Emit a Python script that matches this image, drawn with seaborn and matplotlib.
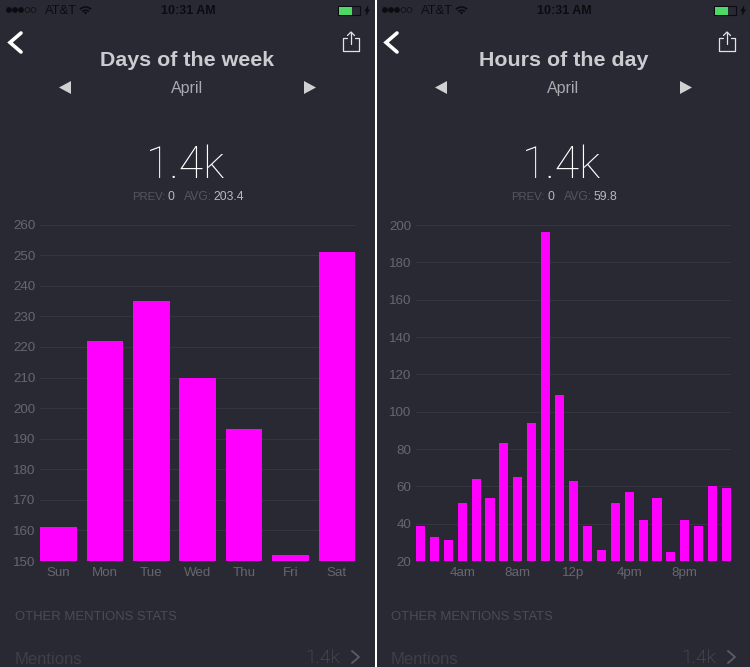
import matplotlib.pyplot as plt
from matplotlib.patches import Rectangle, Polygon, Arc
import seaborn as sns
import pandas as pd

# values
days = ['Sun', 'Mon', 'Tue', 'Wed', 'Thu', 'Fri', 'Sat']
day_counts = [161, 222, 235, 210, 193, 152, 251]
day_yticks = [150, 160, 170, 180, 190, 200, 210, 220, 230, 240, 250, 260]

hours = list(range(1, 24))
hour_counts = [39, 33, 31, 51, 64, 54, 83, 65, 94, 196, 109, 63,
               39, 26, 51, 57, 42, 54, 25, 42, 39, 60, 59]
hour_yticks = [20, 40, 60, 80, 100, 120, 140, 160, 180, 200]
hour_tick_hours = [4, 8, 12, 16, 20]
hour_tick_labels = ['4am', '8am', '12p', '4pm', '8pm']

BG = '#282932'
MAGENTA = '#ff00ff'
TICK = '#66676e'
GRID = '#34353e'
W, H = 750, 667

sns.set_theme(style='dark', rc={
    'figure.facecolor': BG,
    'axes.facecolor': 'none',
    'axes.edgecolor': BG,
    'grid.color': GRID,
})
plt.rcParams['font.family'] = ['Liberation Sans', 'DejaVu Sans']

fig = plt.figure(figsize=(7.5, 6.67), dpi=100)

# pixel-space layer for the phone chrome
ui = fig.add_axes([0, 0, 1, 1], zorder=3)
ui.set_xlim(0, W)
ui.set_ylim(H, 0)
ui.axis('off')


def draw_chrome(dx, title, prev_xs, avg):
    # status bar
    for i, x in enumerate([9, 15, 21, 27.5, 33.5]):
        ui.add_patch(plt.Circle((x + dx, 10), 2.5, fc='#0c0c10' if i < 3 else 'none',
                                ec='#0c0c10', lw=0.5))
    ui.text(45 + dx, 10.5, 'AT&T', color='#0c0c10', fontsize=9.3, va='center')
    for d in [16, 9.5]:
        ui.add_patch(Arc((85.5 + dx, 15), d, d, theta1=225, theta2=315,
                         color='#0c0c10', lw=1.2))
    ui.add_patch(Polygon([(83.5 + dx, 12), (87.5 + dx, 12), (85.5 + dx, 14.5)],
                         fc='#0c0c10', lw=0))
    ui.text(188.5 + dx, 10.5, '10:31 AM', color='#0c0c10', fontsize=9, ha='center',
            va='center', fontweight='bold')
    ui.add_patch(Rectangle((338 + dx, 6), 22, 9, fc='none', ec='#0c0c10', lw=0.8))
    ui.add_patch(Rectangle((338.5 + dx, 6.5), 13, 8, fc='#4cd964', lw=0))
    ui.add_patch(Polygon([(368 + dx, 6), (365 + dx, 11), (367 + dx, 11), (366 + dx, 15),
                          (369.5 + dx, 9.5), (367.5 + dx, 9.5)], fc='#0c0c10',
                         ec='#0c0c10', lw=0.5))

    # back and share icons
    ui.plot([21 + dx, 10 + dx, 21 + dx], [33, 42.5, 52], color='white', lw=2.6,
            solid_joinstyle='miter')
    ui.plot([347 + dx, 343 + dx, 343 + dx, 359 + dx, 359 + dx, 355 + dx],
            [38, 38, 51, 51, 38, 38], color='#e4e4e6', lw=0.9)
    ui.plot([351 + dx, 351 + dx], [32, 44], color='#e4e4e6', lw=0.9)
    ui.plot([347.5 + dx, 351 + dx, 354.5 + dx], [35.5, 32, 35.5], color='#e4e4e6', lw=0.9)

    # header
    ui.text(187.5 + dx, 60.5, title, color='#d6d6da', fontsize=15.4, fontweight='bold',
            ha='center', va='center', alpha=0.95)
    ui.text(187.5 + dx, 88, 'April', color='#a9aaae', fontsize=11.5, ha='center', va='center')
    ui.add_patch(Polygon([(71 + dx, 81), (59 + dx, 87.5), (71 + dx, 94)], fc='#d0d0d3', lw=0))
    ui.add_patch(Polygon([(304 + dx, 81), (316 + dx, 87.5), (304 + dx, 94)], fc='#d0d0d3', lw=0))
    ui.text(186 + dx, 165.5, '1.4k', color='white', fontsize=32, ha='center', va='center',
            family='Roboto', fontweight='light')

    # small stats line
    ui.text(prev_xs[0] + dx, 197, 'PREV:', color='#55565d', fontsize=8.2, va='center')
    ui.text(prev_xs[1] + dx, 197, '0', color='#b8b8bc', fontsize=8.7, va='center')
    ui.text(prev_xs[2] + dx, 197, 'AVG:', color='#55565d', fontsize=8.7, va='center')
    ui.text(prev_xs[3] + dx, 197, avg, color='#b8b8bc', fontsize=8.7, va='center')

    # footer
    ui.text(15 + dx, 617, 'OTHER MENTIONS STATS', color='#4a4b53', fontsize=9.4, va='center')
    ui.text(15 + dx, 659, 'Mentions', color='#3e3f47', fontsize=12, va='center')
    ui.text(340 + dx, 658, '1.4k', color='#55565d', fontsize=14, ha='right', va='center',
            family='Roboto', fontweight='light')
    ui.plot([352 + dx, 359 + dx, 352 + dx], [651, 657, 663], color='#5c5d64', lw=1.3)


def style_axes(ax, yticks, ylims):
    ax.set_ylim(*ylims)
    ax.set_yticks(yticks)
    ax.set_xlabel('')
    ax.set_ylabel('')
    ax.grid(axis='y', color=GRID, lw=0.8)
    ax.grid(axis='x', visible=False)
    ax.set_axisbelow(True)
    ax.tick_params(axis='both', length=0, labelcolor=TICK, labelsize=9.6)
    ax.tick_params(axis='y', pad=3.5)
    ax.tick_params(axis='x', pad=4)
    for s in ax.spines.values():
        s.set_visible(False)


def px_axes(x0, x1, y_top, y_bot):
    return fig.add_axes([x0 / W, 1 - y_bot / H, (x1 - x0) / W, (y_bot - y_top) / H], zorder=2)


# left phone
ax1 = px_axes(40, 355.5, 224.6, 561)
df_days = pd.DataFrame({'day': days, 'count': day_counts})
sns.barplot(data=df_days, x='day', y='count', order=days, color=MAGENTA, saturation=1,
            width=0.79, linewidth=0, edgecolor='none', ax=ax1)
style_axes(ax1, day_yticks, (150, 260))
ax1.set_xlim(-0.4, 6.4)

# right phone
ax2 = px_axes(416, 731, 225, 561)
df_hours = pd.DataFrame({'hour': hours, 'count': hour_counts})
sns.barplot(data=df_hours, x='hour', y='count', order=hours, color=MAGENTA, saturation=1,
            width=0.65, linewidth=0, edgecolor='none', ax=ax2)
style_axes(ax2, hour_yticks, (20, 200))
ax2.set_xlim(-0.32, 22.32)
ax2.set_xticks([hours.index(h) for h in hour_tick_hours])
ax2.set_xticklabels(hour_tick_labels)

draw_chrome(0, 'Days of the week', [132, 167, 184, 213], '203.4')
draw_chrome(376, 'Hours of the day', [135.5, 171, 188, 217], '59.8')

# divider between the two screenshots
ui.add_patch(Rectangle((375, 0), 1.6, H, fc='white', lw=0))

plt.savefig('out.png', dpi=100, facecolor=BG)
plt.close()
